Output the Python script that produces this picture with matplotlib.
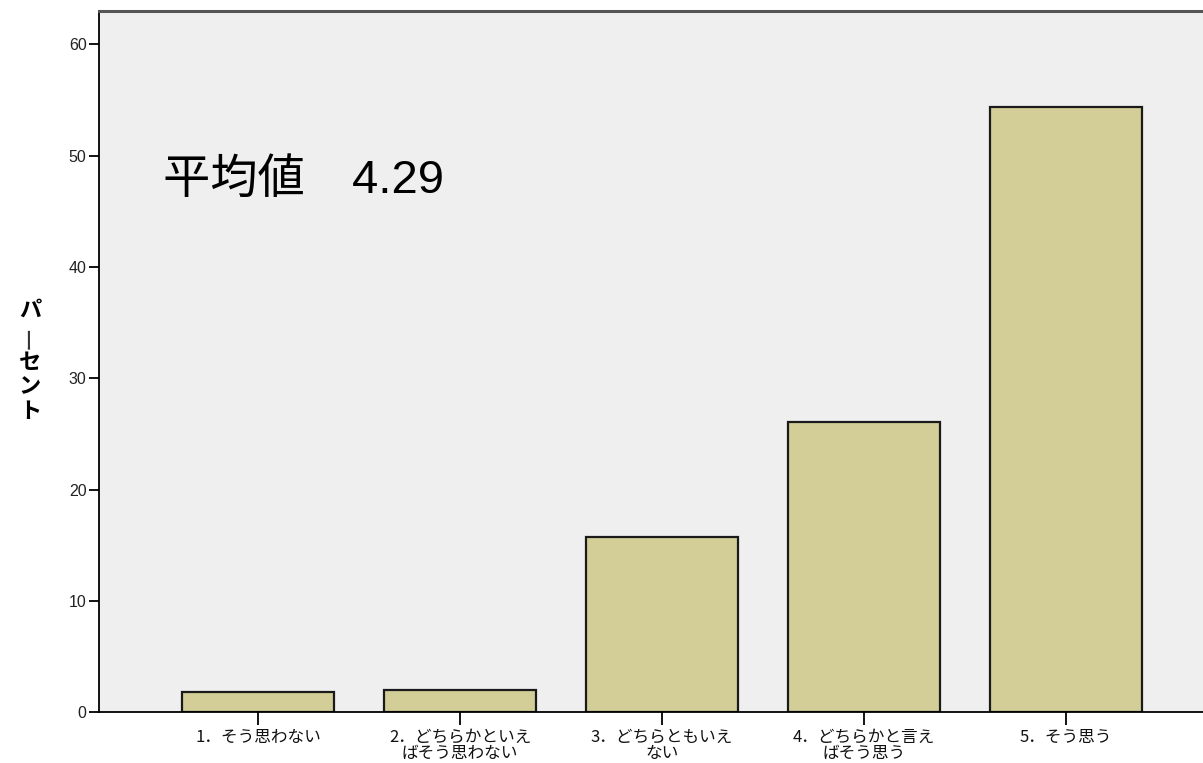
import matplotlib
matplotlib.use("Agg")
import matplotlib.pyplot as plt

plt.rcParams['font.family'] = ['Noto Sans CJK JP', 'DejaVu Sans']

# 回答カテゴリとパーセント
categories = ["1．そう思わない", "2．どちらかといえ\nばそう思わない", "3．どちらともいえ\nない",
              "4．どちらかと言え\nばそう思う", "5．そう思う"]
percent = [1.8, 2.0, 15.7, 26.1, 54.4]
y_ticks = [0, 10, 20, 30, 40, 50, 60]
ylabel_chars = "パーセント"
mean_text = "平均値　4.29"

fig = plt.figure(figsize=(12.03, 7.63), dpi=100)
ax = fig.add_axes([0.0823, 0.0668, 0.936, 0.9187])
ax.set_facecolor("#efefef")

pos = list(range(1, len(categories) + 1))
ax.bar(pos, percent, width=0.75, color="#d3ce97", edgecolor="#1a1a1a", linewidth=1.6)

ax.set_xlim(0.213, 5.787)
ax.set_ylim(0, 63)
ax.set_yticks(y_ticks)
ax.set_yticklabels([str(v) for v in y_ticks], fontsize=11.5, color="#222222",
                   family=['Liberation Sans Narrow', 'Liberation Sans'])
ax.set_xticks(pos)
ax.set_xticklabels(categories, fontsize=12, linespacing=0.95, color="#111111",
                   multialignment="center")
ax.tick_params(axis="y", direction="out", length=7, width=1.3, pad=2)
ax.tick_params(axis="x", direction="out", length=9, width=1.3, pad=3)

ax.spines["left"].set_linewidth(1.3)
ax.spines["bottom"].set_linewidth(1.3)
ax.spines["top"].set_linewidth(2.2)
ax.spines["top"].set_color("#555555")
ax.spines["right"].set_visible(False)

ax.text(0.53, 47.7, mean_text, fontsize=34, va="center", ha="left", color="black",
        family=['Liberation Sans', 'Noto Sans CJK JP'])

# 縦書きの軸ラベル
ys = [310, 337, 363, 387, 412]
for ch, yp in zip(ylabel_chars, ys):
    if ch == "ー":
        fig.text(30 / 1203, 1 - yp / 763, ch, fontsize=17, color="#333333",
                 ha="center", va="center", rotation=90)
    else:
        fig.text(30 / 1203, 1 - yp / 763, ch, fontsize=16, fontweight="bold",
                 ha="center", va="center")

fig.savefig("out.png", dpi=100)
